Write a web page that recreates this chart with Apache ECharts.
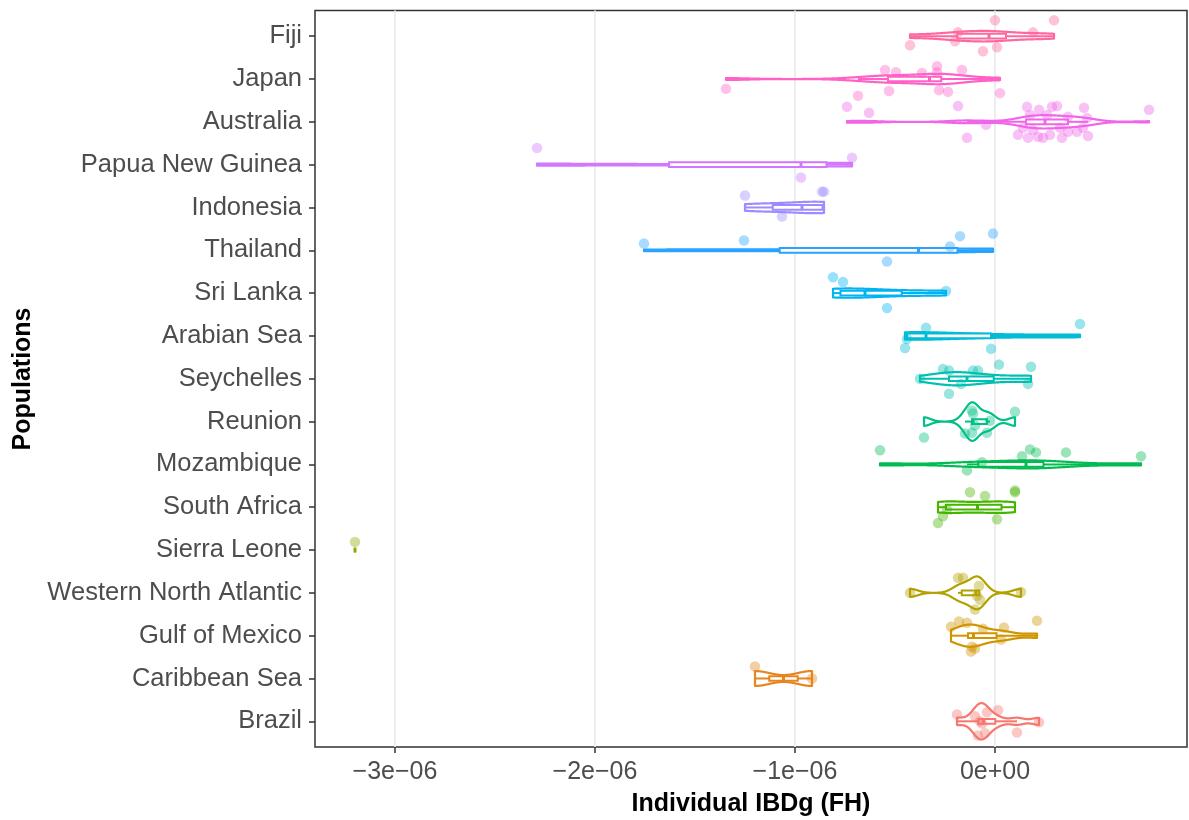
<!DOCTYPE html>
<html><head><meta charset="utf-8">
<script src="https://cdn.jsdelivr.net/npm/echarts@6/dist/echarts.min.js"></script>
<style>html,body{margin:0;padding:0;background:#fff}#c{width:1189px;height:820px}</style>
</head><body><div id="c"></div>
<script>
// Populations, top to bottom (factor levels run bottom -> top for colours)
const populations = ["Fiji","Japan","Australia","Papua New Guinea","Indonesia","Thailand","Sri Lanka",
  "Arabian Sea","Seychelles","Reunion","Mozambique","South Africa","Sierra Leone",
  "Western North Atlantic","Gulf of Mexico","Caribbean Sea","Brazil"];
// x tick values, in units of 1e-06
const xTicks = [-3, -2, -1, 0];

// Individual IBDg (FH) values, in units of 1e-06, and jitter offsets (fraction of a row, + = down)
const fiji = [0.0, 0.295, -0.185, 0.19, -0.2, -0.425, -0.06, 0.01];
const fijiJit = [-0.37, -0.37, -0.09, -0.09, 0.12, 0.21, 0.35, 0.26];
const japan = [-1.345, -0.55, -0.495, -0.365, -0.29, -0.29, -0.165, -0.53, -0.28, -0.235, 0.025, -0.685];
const japanJit = [0.23, -0.21, -0.16, -0.14, -0.3, -0.16, -0.21, 0.28, 0.26, 0.3, 0.33, 0.39];
const australia = [-0.74, -0.63, -0.185, -0.045, -0.14, 0.16, 0.22, 0.285, 0.31, 0.445, 0.77, 0.175, 0.26, 0.365,
  0.46, 0.115, 0.165, 0.215, 0.24, 0.275, 0.335, 0.365, 0.41, 0.465, 0.14, 0.19, 0.325, 0.44];
const australiaJit = [-0.35, -0.21, -0.37, 0.07, 0.37, -0.35, -0.28, -0.35, -0.37, -0.33, -0.28, -0.16, -0.16, -0.12,
  -0.09, 0.3, 0.37, 0.35, 0.37, 0.3, 0.37, 0.23, 0.23, 0.33, 0.14, 0.19, 0.14, 0.14];
const papua = [-2.29, -0.715, -0.97];
const papuaJit = [-0.39, -0.16, 0.3];
const indonesia = [-1.25, -0.865, -0.855, -1.065];
const indonesiaJit = [-0.28, -0.37, -0.37, 0.21];
const thailand = [-1.755, -1.255, -0.175, -0.01, -0.225, -0.54];
const thailandJit = [-0.16, -0.23, -0.33, -0.39, -0.09, 0.26];
const sriLanka = [-0.81, -0.76, -0.245, -0.54];
const sriLankaJit = [-0.37, -0.26, -0.05, 0.35];
const arabianSea = [-0.345, 0.425, -0.45, -0.02, -0.44];
const arabianSeaJit = [-0.19, -0.28, 0.28, 0.3, 0.07];
const seychelles = [-0.26, -0.23, -0.11, -0.085, 0.02, 0.18, -0.375, -0.17, 0.165, -0.23];
const seychellesJit = [-0.23, -0.19, -0.19, -0.19, -0.33, -0.28, 0, 0.12, 0.12, 0.35];
const reunion = [-0.355, -0.15, -0.115, -0.115, -0.11, -0.1, -0.04, -0.025, 0.1];
const reunionJit = [0.37, 0.28, -0.26, 0.26, -0.19, 0.09, 0.26, -0.02, -0.23];
const mozambique = [-0.575, 0.175, 0.205, 0.135, 0.355, 0.73, -0.065, -0.14];
const mozambiqueJit = [-0.33, -0.35, -0.28, -0.19, -0.28, -0.19, -0.05, 0.14];
const southAfrica = [-0.125, -0.05, 0.1, 0.1, -0.26, -0.285, 0.01, -0.24];
const southAfricaJit = [-0.35, -0.26, -0.39, -0.35, 0.21, 0.37, 0.28, 0.05];
const sierraLeone = [-3.2];
const sierraLeoneJit = [-0.19];
const wnAtlantic = [-0.425, -0.185, -0.16, -0.08, -0.075, -0.09, -0.1, 0.13];
const wnAtlanticJit = [0, -0.35, -0.35, -0.16, 0.16, 0.07, 0.39, -0.02];
const gulfMexico = [-0.22, -0.18, -0.14, -0.06, 0.045, 0.21, -0.115, -0.12, -0.1, 0.03];
const gulfMexicoJit = [-0.21, -0.33, -0.3, -0.16, -0.19, -0.35, 0.26, 0.37, 0.3, 0.09];
const caribbean = [-1.2, -0.915];
const caribbeanJit = [-0.28, 0];
const brazil = [-0.19, -0.04, 0.015, 0.22, 0.11, -0.085, -0.05, -0.075, -0.065, -0.1];
const brazilJit = [-0.16, -0.21, -0.26, 0.02, 0.26, 0.33, 0.28, 0, 0.05, -0.12];

const groups = [fiji, japan, australia, papua, indonesia, thailand, sriLanka, arabianSea, seychelles,
  reunion, mozambique, southAfrica, sierraLeone, wnAtlantic, gulfMexico, caribbean, brazil];
const jitters = [fijiJit, japanJit, australiaJit, papuaJit, indonesiaJit, thailandJit, sriLankaJit, arabianSeaJit,
  seychellesJit, reunionJit, mozambiqueJit, southAfricaJit, sierraLeoneJit, wnAtlanticJit, gulfMexicoJit,
  caribbeanJit, brazilJit];

// ggplot2 default hue palette (hcl, l=65, c=100)
function hcl(h, c, l) {
  const hr = h * Math.PI / 180, U = c * Math.cos(hr), V = c * Math.sin(hr);
  const Xn = 95.047, Yn = 100.0, Zn = 108.883;
  const Y = Yn * (l > 8 ? Math.pow((l + 16) / 116, 3) : l / 903.3);
  const t = Xn + Yn + Zn, x = Xn / t, y = Yn / t;
  const uN = 2 * x / (6 * y - x + 1.5), vN = 4.5 * y / (6 * y - x + 1.5);
  const u = U / (13 * l) + uN, v = V / (13 * l) + vN;
  const X = 9.0 * Y * u / (4 * v), Z = -X / 3 - 5 * Y + 3 * Y / v;
  const g = w => { w = w > 0.00304 ? 1.055 * Math.pow(w, 1 / 2.4) - 0.055 : 12.92 * w; return Math.round(Math.max(0, Math.min(1, w)) * 255); };
  const r = g((3.240479 * X - 1.537150 * Y - 0.498535 * Z) / Yn);
  const gg = g((-0.969256 * X + 1.875992 * Y + 0.041556 * Z) / Yn);
  const b = g((0.055648 * X - 0.204043 * Y + 1.057311 * Z) / Yn);
  return '#' + [r, gg, b].map(q => q.toString(16).padStart(2, '0')).join('');
}
const nG = populations.length;
const colors = populations.map((p, i) => { const lvl = nG - 1 - i; return hcl(15 + lvl * 360 / nG, 100, 65); });
const fade = (hex, a) => { const n = parseInt(hex.slice(1), 16); return `rgba(${n >> 16},${(n >> 8) & 255},${n & 255},${a})`; };

// statistics (as ggplot2 would compute them)
function quant(s, p) { const h = (s.length - 1) * p, lo = Math.floor(h), hi = Math.ceil(h); return s[lo] + (h - lo) * (s[hi] - s[lo]); }
const violins = groups.map(vals => {
  const n = vals.length; if (n < 2) return null;
  const s = [...vals].sort((a, b) => a - b);
  const mean = s.reduce((a, b) => a + b, 0) / n;
  const sd = Math.sqrt(s.reduce((a, b) => a + (b - mean) ** 2, 0) / (n - 1));
  const iqr = quant(s, 0.75) - quant(s, 0.25);
  let lo = Math.min(sd, iqr / 1.34); if (!lo) lo = sd || Math.abs(s[0]) || 1;
  const bw = 0.9 * lo * Math.pow(n, -0.2);
  const xs = [], ds = [];
  for (let k = 0; k < 512; k++) {
    const xv = s[0] + (s[n - 1] - s[0]) * k / 511;
    let d = 0; for (const v of s) { const z = (xv - v) / bw; d += Math.exp(-0.5 * z * z); }
    xs.push(xv); ds.push(d / (n * bw * Math.sqrt(2 * Math.PI)));
  }
  return { xs, ds };
});
const maxD = Math.max(...violins.filter(Boolean).map(v => Math.max(...v.ds)));
const boxes = groups.map(vals => {
  const s = [...vals].sort((a, b) => a - b);
  const q1 = quant(s, 0.25), med = quant(s, 0.5), q3 = quant(s, 0.75), iqr = q3 - q1;
  const lw = s.find(v => v >= q1 - 1.5 * iqr), uw = [...s].reverse().find(v => v <= q3 + 1.5 * iqr);
  return { q1, med, q3, lw, uw };
});

const VW = 0.45, BH = 0.055;
const chart = echarts.init(document.getElementById('c'), null, { renderer: 'canvas' });
const pointData = [];
groups.forEach((vals, i) => vals.forEach((v, k) => pointData.push({ value: [v, i + jitters[i][k]], itemStyle: { color: fade(colors[i], 0.5) } })));

const FONT = '"Liberation Sans", Arial, sans-serif';
chart.setOption({
  animation: false,
  backgroundColor: '#fff',
  grid: { left: 315, right: 2, top: 10.5, bottom: 73, show: true, borderColor: '#333333', borderWidth: 1.5, backgroundColor: 'transparent' },
  xAxis: {
    type: 'value', min: -3.4, max: 0.96,
    axisLine: { show: false, onZero: false },
    axisTick: { show: true, length: 6, customValues: xTicks, lineStyle: { color: '#333333', width: 1.5 } },
    axisLabel: { customValues: xTicks, margin: 13, color: '#4D4D4D', fontSize: 25, fontFamily: FONT,
      formatter: v => v === 0 ? '0e+00' : (v < 0 ? '\u2212' : '') + Math.abs(v) + 'e\u221206' },
    splitLine: { show: true, lineStyle: { color: '#EBEBEB', width: 1.8 } }
  },
  yAxis: {
    type: 'value', min: -0.6, max: nG - 0.4, inverse: true,
    axisLine: { show: false, onZero: false },
    axisTick: { show: true, length: 6, customValues: populations.map((p, i) => i), lineStyle: { color: '#333333', width: 1.5 } },
    axisLabel: { customValues: populations.map((p, i) => i), margin: 13, color: '#4D4D4D', fontSize: 25.5, fontFamily: FONT,
      formatter: v => populations[Math.round(v)] },
    splitLine: { show: false }
  },
  graphic: [
    { type: 'text', x: 751, y: 804, style: { text: 'Individual IBDg (FH)', fill: '#000', font: 'bold 25px ' + FONT, align: 'center', verticalAlign: 'middle' } },
    { type: 'text', x: 23, y: 379, rotation: Math.PI / 2, style: { text: 'Populations', fill: '#000', font: 'bold 25px ' + FONT, align: 'center', verticalAlign: 'middle' } }
  ],
  series: [
    {
      type: 'custom', name: 'violin', z: 2,
      data: populations.map((p, i) => [0, i]),
      encode: { x: 0, y: 1 },
      renderItem: (params, api) => {
        const gi = api.value(1), v = violins[gi];
        if (!v) return null;
        const pts = [];
        for (let k = 0; k < v.xs.length; k++) pts.push(api.coord([v.xs[k], gi - v.ds[k] / maxD * VW]));
        for (let k = v.xs.length - 1; k >= 0; k--) pts.push(api.coord([v.xs[k], gi + v.ds[k] / maxD * VW]));
        return { type: 'polygon', shape: { points: pts }, style: { fill: '#ffffff', stroke: colors[gi], lineWidth: 2.2, lineJoin: 'round' } };
      }
    },
    {
      type: 'custom', name: 'box', z: 3,
      data: populations.map((p, i) => [0, i]),
      encode: { x: 0, y: 1 },
      renderItem: (params, api) => {
        const gi = api.value(1), b = boxes[gi], c = colors[gi];
        const P = (x, y) => api.coord([x, y]);
        const poly = [P(b.q1, gi - BH), P(b.q3, gi - BH), P(b.q3, gi + BH), P(b.q1, gi + BH)];
        const st = { stroke: c, lineWidth: 2 };
        const l1 = P(b.lw, gi), l2 = P(b.q1, gi), u1 = P(b.q3, gi), u2 = P(b.uw, gi);
        const m1 = P(b.med, gi - BH), m2 = P(b.med, gi + BH);
        return { type: 'group', children: [
          { type: 'line', shape: { x1: l1[0], y1: l1[1], x2: l2[0], y2: l2[1] }, style: st },
          { type: 'line', shape: { x1: u1[0], y1: u1[1], x2: u2[0], y2: u2[1] }, style: st },
          { type: 'polygon', shape: { points: poly }, style: { fill: '#ffffff', stroke: c, lineWidth: 2, lineJoin: 'miter' } },
          { type: 'line', shape: { x1: m1[0], y1: m1[1], x2: m2[0], y2: m2[1] }, style: { stroke: c, lineWidth: 3 } }
        ] };
      }
    },
    {
      type: 'scatter', name: 'points', z: 4, symbol: 'circle', symbolSize: 10.5,
      data: pointData, emphasis: { disabled: true }
    }
  ]
});
</script></body></html>
